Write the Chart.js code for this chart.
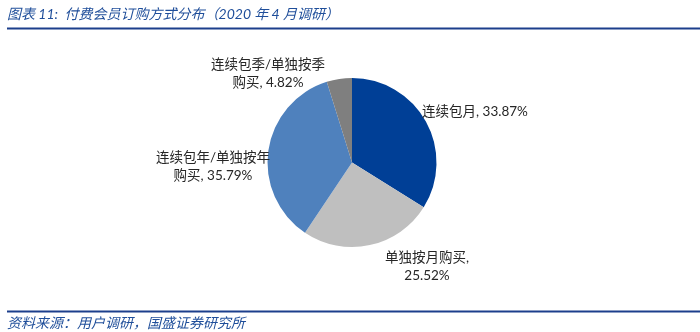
<!DOCTYPE html>
<html>
<head>
<meta charset="utf-8">
<script src="https://cdn.jsdelivr.net/npm/chart.js@4.4.1/dist/chart.umd.min.js"></script>
<style>
    html, body { margin: 0; padding: 0; background: #ffffff; }
    #wrap { position: relative; width: 700px; height: 332px; }
</style>
</head>
<body>
<div id="wrap"><canvas id="pieChart" width="700" height="332"></canvas></div>
<script>
const chartTitle = '图表 11:  付费会员订购方式分布（2020 年 4 月调研）';
const sourceNote = '资料来源：用户调研，国盛证券研究所';

const categories = ['连续包月', '单独按月购买', '连续包年/单独按年购买', '连续包季/单独按季购买'];
const shares = [33.87, 25.52, 35.79, 4.82];
const sliceColors = ['#003f96', '#bfbfbf', '#4f81bd', '#7f7f7f'];

// where each data label sits relative to the pie centre, and how wide it may grow before wrapping
const labelOffsets = [[123, -51], [75, 104], [-139, 4], [-84, -89]];
const labelWidths = [200, 95, 120, 120];

const labelFont = '13.5px Lato, "Noto Sans CJK SC", sans-serif';
const headFont = 'italic 14px Lato, "Noto Sans CJK SC", sans-serif';
const brandBlue = '#1f4e9a';

// split into CJK characters and latin words, then pack them into lines
function wrapText(ctx, text, maxWidth) {
    const tokens = text.match(/[\u3000-\u9fff\uff00-\uffef]|[^\s\u3000-\u9fff\uff00-\uffef]+|\s+/g) || [];
    const lines = [];
    let line = '';
    tokens.forEach(tok => {
        const trial = line + tok;
        if (line.trim() && ctx.measureText(trial.trimEnd()).width > maxWidth) {
            lines.push(line.trimEnd());
            line = tok.trim() ? tok : '';
        } else {
            line = trial;
        }
    });
    if (line.trim()) lines.push(line.trimEnd());
    return lines;
}

const decorations = {
    id: 'decorations',
    afterDraw(chart) {
        const ctx = chart.ctx;
        const w = chart.width;
        ctx.save();

        // heading and its rule
        ctx.font = headFont;
        ctx.fillStyle = brandBlue;
        ctx.textAlign = 'left';
        ctx.textBaseline = 'middle';
        ctx.fillText(chartTitle, 7, 14);
        ctx.fillStyle = '#1c3f8c';
        ctx.fillRect(7, 27.5, w - 7, 2);

        // source rule and note
        ctx.fillRect(7, 310.5, w - 7, 2);
        ctx.fillStyle = brandBlue;
        ctx.fillText(sourceNote, 7, 323);

        // slice labels
        const arc = chart.getDatasetMeta(0).data[0];
        ctx.font = labelFont;
        ctx.fillStyle = '#262626';
        ctx.textAlign = 'center';
        const lineH = 18;
        categories.forEach((name, i) => {
            const text = name + ', ' + shares[i].toFixed(2) + '%';
            const lines = wrapText(ctx, text, labelWidths[i]);
            const cx = arc.x + labelOffsets[i][0];
            const cy = arc.y + labelOffsets[i][1];
            const top = cy - (lines.length - 1) * lineH / 2;
            lines.forEach((ln, k) => ctx.fillText(ln, cx, top + k * lineH));
        });
        ctx.restore();
    }
};

new Chart(document.getElementById('pieChart').getContext('2d'), {
    type: 'pie',
    data: {
        labels: categories,
        datasets: [{
            data: shares,
            backgroundColor: sliceColors,
            borderWidth: 0
        }]
    },
    options: {
        responsive: false,
        animation: false,
        layout: {
            padding: { top: 78, bottom: 85, left: 267.5, right: 263.5 }
        },
        plugins: {
            legend: { display: false },
            tooltip: { enabled: false }
        }
    },
    plugins: [decorations]
});
</script>
</body>
</html>
